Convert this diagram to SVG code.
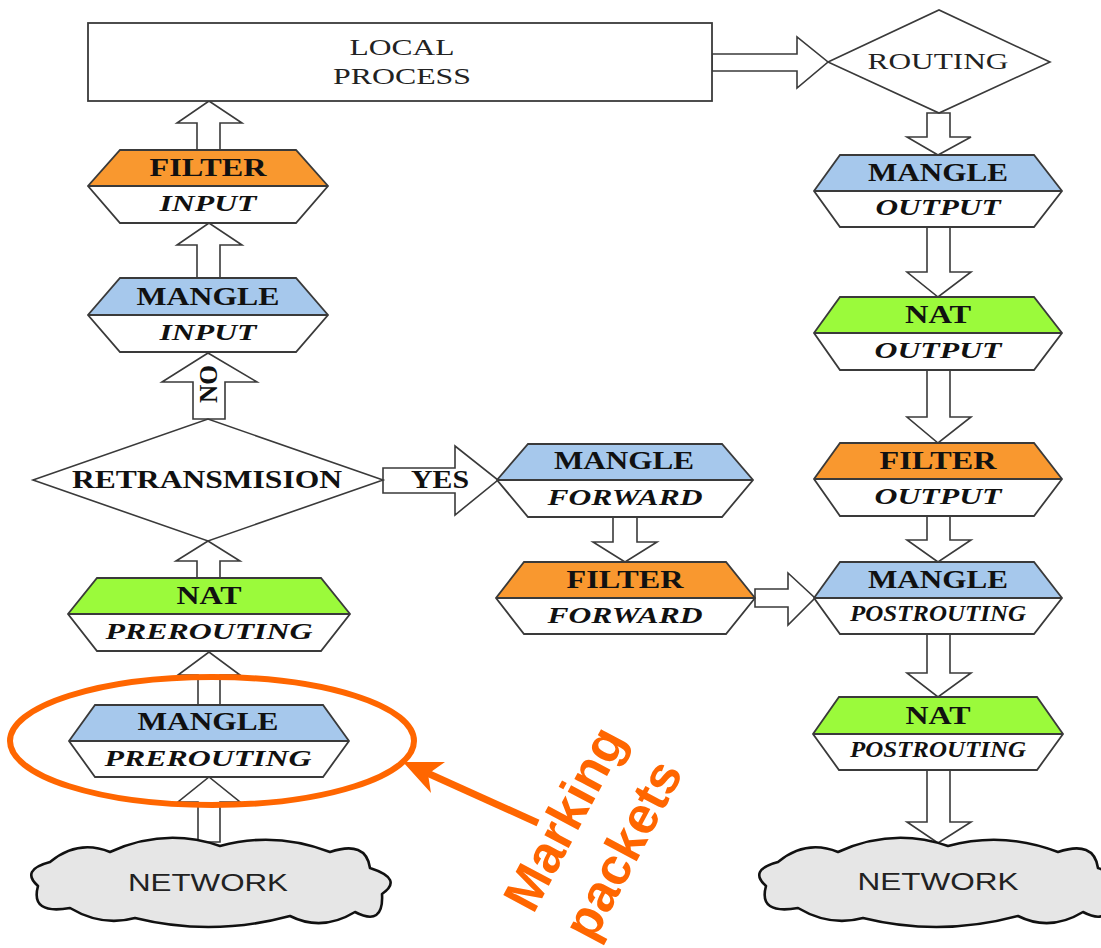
<svg xmlns="http://www.w3.org/2000/svg" width="1101" height="948" viewBox="0 0 1101 948">
<style>
.arr{fill:#fff;stroke:#3a3a3a;stroke-width:1.6;stroke-linejoin:miter}
.hx{stroke:#3a3a3a;stroke-width:1.8;stroke-linejoin:miter}
.blue{fill:#A6C8EC}.orange{fill:#F9982F}.green{fill:#9BFA3B}.wh{fill:#fff}
.t{font-family:"Liberation Serif","Times New Roman",serif;font-weight:bold;font-size:26px;fill:#111;text-anchor:middle}
.i{font-family:"Liberation Serif","Times New Roman",serif;font-weight:bold;font-style:italic;font-size:24px;fill:#111;text-anchor:middle}
.r{font-family:"Liberation Serif","Times New Roman",serif;font-size:24px;fill:#222;text-anchor:middle}
.n{font-family:"Liberation Sans",Arial,sans-serif;font-size:24px;fill:#222;text-anchor:middle}
.cloud{fill:#E6E6E6;stroke:#111;stroke-width:2.6;stroke-linejoin:round}
.dia{fill:#fff;stroke:#3a3a3a;stroke-width:1.6}
</style>
<defs>
<path id="cloudShape" class="cloud" d="M -172,4 Q -190,-12 -160,-20 Q -132,-43 -100,-30 Q -45,-55 10,-36 Q 65,-51 120,-30 Q 156,-42 160,-14 Q 194,-3 172,12 Q 174,45 145,30 Q 112,50 80,34 Q 2,55 -75,36 Q -108,45 -140,26 Q -180,33 -172,4 Z"/>
</defs>

<g id="connectors">
<polygon class="arr" points="197,150 197,123 177,123 209,101 242,123 220,123 220,150"/>
<polygon class="arr" points="197,278 197,245 177,245 209,223 242,245 220,245 220,278"/>
<polygon class="arr" points="193,419 193,382 162,382 208,353 257,382 225,382 225,419"/>
<polygon class="arr" points="197,578 197,561 176,561 208,541 240,561 220,561 220,578"/>
<polygon class="arr" points="198,705 198,675 178,675 209,652 240,675 220,675 220,705"/>
<polygon class="arr" points="198,842 198,802 178,802 209,777 240,802 220,802 220,842"/>
<polygon class="arr" points="383,468 455,468 455,446 498,480 455,515 455,493 383,493"/>
<polygon class="arr" points="712,54 797,54 797,37 828,62 797,88 797,71 712,71"/>
<polygon class="arr" points="927,113 927,137 907,137 938,155 971,137 950,137 950,113"/>
<polygon class="arr" points="927,227 927,272 907,272 938,297 971,272 950,272 950,227"/>
<polygon class="arr" points="927,370 927,417 907,417 938,443 971,417 950,417 950,370"/>
<polygon class="arr" points="927,516 927,540 907,540 938,562 971,540 950,540 950,516"/>
<polygon class="arr" points="927,634 927,673 907,673 938,697 971,673 950,673 950,634"/>
<polygon class="arr" points="927,770 927,822 907,822 938,843 971,822 950,822 950,770"/>
<polygon class="arr" points="613,517 613,542 593,542 625,562 657,542 637,542 637,517"/>
<polygon class="arr" points="755,589 788,589 788,573 815,598 788,625 788,607 755,607"/>
<text class="t" font-size="24" transform="translate(217,384) rotate(-90)" textLength="38" lengthAdjust="spacingAndGlyphs">NO</text>
<text class="t" font-size="24" x="440" y="488" textLength="58" lengthAdjust="spacingAndGlyphs">YES</text>
</g>

<g id="local-process">
<rect x="88" y="23" width="624" height="78" fill="#fff" stroke="#3a3a3a" stroke-width="1.8"/>
<text class="r" x="402" y="55" textLength="105" lengthAdjust="spacingAndGlyphs">LOCAL</text>
<text class="r" x="402" y="84" textLength="138" lengthAdjust="spacingAndGlyphs">PROCESS</text>
</g>

<g id="routing">
<polygon class="dia" points="828,62 939,10 1050,62 939,113"/>
<text class="r" x="938" y="69" textLength="141" lengthAdjust="spacingAndGlyphs">ROUTING</text>
</g>

<g id="retransmision">
<polygon class="dia" points="33,480 208,419 383,480 208,541"/>
<text class="t" font-size="24" x="207" y="488" textLength="270" lengthAdjust="spacingAndGlyphs">RETRANSMISION</text>
</g>

<g id="filter-input">
<polygon class="orange" points="120,150 296,150 328,186 88,186"/>
<polygon class="wh" points="88,186 328,186 296,223 120,223"/>
<polygon class="hx" fill="none" points="120,150 296,150 328,186 296,223 120,223 88,186"/>
<line class="hx" x1="88" y1="186" x2="328" y2="186"/>
<text class="t" x="208" y="176" textLength="117" lengthAdjust="spacingAndGlyphs">FILTER</text>
<text class="i" x="208" y="211" textLength="97" lengthAdjust="spacingAndGlyphs">INPUT</text>
</g>

<g id="mangle-input">
<polygon class="blue" points="120,278 296,278 328,315 88,315"/>
<polygon class="wh" points="88,315 328,315 296,352 120,352"/>
<polygon class="hx" fill="none" points="120,278 296,278 328,315 296,352 120,352 88,315"/>
<line class="hx" x1="88" y1="315" x2="328" y2="315"/>
<text class="t" x="208" y="305" textLength="143" lengthAdjust="spacingAndGlyphs">MANGLE</text>
<text class="i" x="208" y="340" textLength="97" lengthAdjust="spacingAndGlyphs">INPUT</text>
</g>

<g id="nat-prerouting">
<polygon class="green" points="97,578 321,578 350,614 68,614"/>
<polygon class="wh" points="68,614 350,614 321,651 97,651"/>
<polygon class="hx" fill="none" points="97,578 321,578 350,614 321,651 97,651 68,614"/>
<line class="hx" x1="68" y1="614" x2="350" y2="614"/>
<text class="t" x="209" y="604" textLength="65" lengthAdjust="spacingAndGlyphs">NAT</text>
<text class="i" x="209" y="639" textLength="207" lengthAdjust="spacingAndGlyphs">PREROUTING</text>
</g>

<g id="mangle-prerouting">
<polygon class="blue" points="95,705 323,705 349,741 69,741"/>
<polygon class="wh" points="69,741 349,741 323,777 95,777"/>
<polygon class="hx" fill="none" points="95,705 323,705 349,741 323,777 95,777 69,741"/>
<line class="hx" x1="69" y1="741" x2="349" y2="741"/>
<text class="t" x="208" y="730" textLength="141" lengthAdjust="spacingAndGlyphs">MANGLE</text>
<text class="i" x="208" y="766" textLength="207" lengthAdjust="spacingAndGlyphs">PREROUTING</text>
</g>

<g id="network-left">
<use href="#cloudShape" transform="translate(210,882)"/>
<text class="n" x="208" y="891" textLength="160" lengthAdjust="spacingAndGlyphs">NETWORK</text>
</g>

<g id="mangle-forward">
<polygon class="blue" points="528,444 722,444 753,480 497,480"/>
<polygon class="wh" points="497,480 753,480 722,517 528,517"/>
<polygon class="hx" fill="none" points="528,444 722,444 753,480 722,517 528,517 497,480"/>
<line class="hx" x1="497" y1="480" x2="753" y2="480"/>
<text class="t" x="624" y="469" textLength="140" lengthAdjust="spacingAndGlyphs">MANGLE</text>
<text class="i" x="625" y="505" textLength="155" lengthAdjust="spacingAndGlyphs">FORWARD</text>
</g>

<g id="filter-forward">
<polygon class="orange" points="524,562 726,562 755,598 496,598"/>
<polygon class="wh" points="496,598 755,598 726,634 524,634"/>
<polygon class="hx" fill="none" points="524,562 726,562 755,598 726,634 524,634 496,598"/>
<line class="hx" x1="496" y1="598" x2="755" y2="598"/>
<text class="t" x="625" y="588" textLength="117" lengthAdjust="spacingAndGlyphs">FILTER</text>
<text class="i" x="625" y="623" textLength="155" lengthAdjust="spacingAndGlyphs">FORWARD</text>
</g>

<g id="mangle-output">
<polygon class="blue" points="840,155 1034,155 1062,191 814,191"/>
<polygon class="wh" points="814,191 1062,191 1034,227 840,227"/>
<polygon class="hx" fill="none" points="840,155 1034,155 1062,191 1034,227 840,227 814,191"/>
<line class="hx" x1="814" y1="191" x2="1062" y2="191"/>
<text class="t" x="938" y="181" textLength="140" lengthAdjust="spacingAndGlyphs">MANGLE</text>
<text class="i" x="938" y="215" textLength="125" lengthAdjust="spacingAndGlyphs">OUTPUT</text>
</g>

<g id="nat-output">
<polygon class="green" points="840,297 1034,297 1062,333 814,333"/>
<polygon class="wh" points="814,333 1062,333 1034,370 840,370"/>
<polygon class="hx" fill="none" points="840,297 1034,297 1062,333 1034,370 840,370 814,333"/>
<line class="hx" x1="814" y1="333" x2="1062" y2="333"/>
<text class="t" x="938" y="323" textLength="66" lengthAdjust="spacingAndGlyphs">NAT</text>
<text class="i" x="938" y="358" textLength="127" lengthAdjust="spacingAndGlyphs">OUTPUT</text>
</g>

<g id="filter-output">
<polygon class="orange" points="840,443 1034,443 1062,479 814,479"/>
<polygon class="wh" points="814,479 1062,479 1034,516 840,516"/>
<polygon class="hx" fill="none" points="840,443 1034,443 1062,479 1034,516 840,516 814,479"/>
<line class="hx" x1="814" y1="479" x2="1062" y2="479"/>
<text class="t" x="938" y="469" textLength="117" lengthAdjust="spacingAndGlyphs">FILTER</text>
<text class="i" x="938" y="504" textLength="127" lengthAdjust="spacingAndGlyphs">OUTPUT</text>
</g>

<g id="mangle-postrouting">
<polygon class="blue" points="840,562 1034,562 1062,598 814,598"/>
<polygon class="wh" points="814,598 1062,598 1034,634 840,634"/>
<polygon class="hx" fill="none" points="840,562 1034,562 1062,598 1034,634 840,634 814,598"/>
<line class="hx" x1="814" y1="598" x2="1062" y2="598"/>
<text class="t" x="938" y="588" textLength="140" lengthAdjust="spacingAndGlyphs">MANGLE</text>
<text class="i" font-size="19" x="938" y="621" textLength="176" lengthAdjust="spacingAndGlyphs">POSTROUTING</text>
</g>

<g id="nat-postrouting">
<polygon class="green" points="839,697 1037,697 1063,734 813,734"/>
<polygon class="wh" points="813,734 1063,734 1037,770 839,770"/>
<polygon class="hx" fill="none" points="839,697 1037,697 1063,734 1037,770 839,770 813,734"/>
<line class="hx" x1="813" y1="734" x2="1063" y2="734"/>
<text class="t" x="938" y="724" textLength="65" lengthAdjust="spacingAndGlyphs">NAT</text>
<text class="i" font-size="19" x="938" y="757" textLength="176" lengthAdjust="spacingAndGlyphs">POSTROUTING</text>
</g>

<g id="network-right">
<use href="#cloudShape" transform="translate(938,882)"/>
<text class="n" x="938" y="890" textLength="161" lengthAdjust="spacingAndGlyphs">NETWORK</text>
</g>

<g id="annotation">
<ellipse cx="212" cy="741" rx="202" ry="64" fill="none" stroke="#FF6600" stroke-width="6"/>
<line x1="538" y1="823" x2="425" y2="772" stroke="#FF6600" stroke-width="7"/>
<polygon points="403,762 445,762 428,774 431,793" fill="#FF6600"/>
<text transform="translate(580,827) rotate(-62)" font-family="'Liberation Sans',Arial,sans-serif" font-weight="bold" font-size="52" fill="#FF6600" text-anchor="middle"><tspan x="0" y="0">Marking</tspan><tspan x="0" y="66">packets</tspan></text>
</g>
</svg>
